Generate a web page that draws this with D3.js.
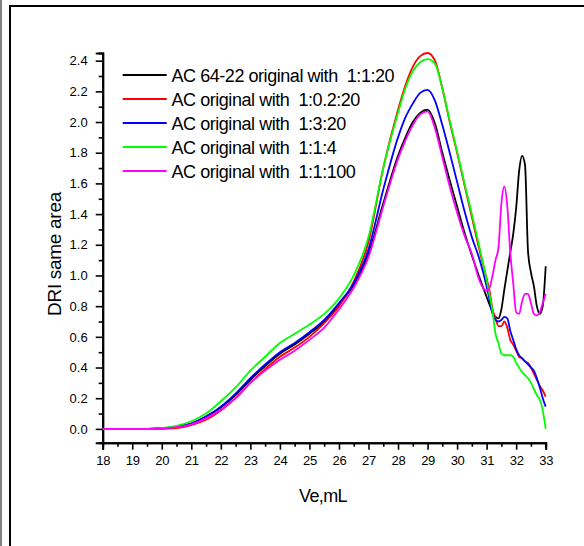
<!DOCTYPE html>
<html><head><meta charset="utf-8">
<script src="https://cdn.jsdelivr.net/npm/d3@7"></script>
<style>body{margin:0;background:#fff}svg{display:block}text{font-family:"Liberation Sans",Arial,sans-serif;fill:#000}</style>
</head><body><svg id="c" width="584" height="546"></svg>
<script>
const ve = [18,19,19.5,20,20.5,21,21.5,22,22.5,23,23.5,24,24.5,25,25.5,26,26.5,27,27.5,28,28.25,28.5,28.75,29,29.25,29.5,29.75,30,30.25,30.5,30.75,31,31.1,31.2,31.3,31.4,31.5,31.6,31.7,31.8,31.9,32,32.1,32.2,32.3,32.4,32.5,32.6,32.7,32.8,32.9,33];
const black = [0,0,0,0.003,0.012,0.035,0.08,0.14,0.22,0.32,0.41,0.49,0.55,0.62,0.70,0.81,0.94,1.14,1.47,1.78,1.90,2.00,2.06,2.08,1.99,1.80,1.62,1.45,1.28,1.13,0.99,0.86,0.81,0.76,0.73,0.72,0.78,0.91,1.03,1.15,1.27,1.44,1.68,1.78,1.72,1.16,1.02,0.93,0.80,0.75,0.80,1.06];
const red = [0,0,0,0,0.005,0.025,0.06,0.12,0.20,0.30,0.39,0.47,0.53,0.60,0.69,0.80,0.96,1.22,1.70,2.08,2.24,2.36,2.43,2.45,2.40,2.22,2.00,1.80,1.59,1.38,1.17,0.98,0.90,0.78,0.72,0.67,0.67,0.70,0.66,0.58,0.55,0.51,0.47,0.46,0.44,0.43,0.40,0.36,0.32,0.28,0.25,0.21];
const blue = [0,0,0,0.005,0.015,0.035,0.08,0.145,0.23,0.33,0.42,0.50,0.56,0.63,0.71,0.82,0.95,1.17,1.56,1.90,2.03,2.12,2.19,2.21,2.14,1.98,1.80,1.61,1.42,1.25,1.11,0.93,0.84,0.75,0.71,0.70,0.71,0.73,0.72,0.64,0.58,0.52,0.48,0.46,0.44,0.42,0.40,0.38,0.33,0.27,0.20,0.145];
const green = [0,0,0,0.005,0.02,0.05,0.10,0.18,0.27,0.38,0.47,0.56,0.62,0.68,0.75,0.85,1.00,1.25,1.70,2.06,2.22,2.33,2.39,2.41,2.38,2.22,2.01,1.81,1.60,1.40,1.19,0.97,0.87,0.77,0.62,0.56,0.49,0.48,0.48,0.48,0.47,0.43,0.40,0.37,0.35,0.33,0.30,0.26,0.22,0.19,0.12,0.0];
const magenta = [0,0,0,0.003,0.012,0.03,0.07,0.125,0.20,0.30,0.38,0.45,0.51,0.58,0.66,0.78,0.92,1.12,1.45,1.76,1.88,1.98,2.05,2.07,1.96,1.77,1.58,1.41,1.26,1.14,0.97,0.90,0.92,1.00,1.10,1.18,1.47,1.58,1.45,1.15,0.95,0.76,0.75,0.83,0.88,0.88,0.82,0.75,0.74,0.76,0.82,0.88];
const seriesNames = ["AC 64-22 original with  1:1:20","AC original with  1:0.2:20","AC original with  1:3:20","AC original with  1:1:4","AC original with  1:1:100"];
const seriesColors = ["#000000","#ff0000","#0000ff","#00ff00","#ff00ff"];
const seriesValues = [black, red, blue, green, magenta];
const xTicks = [18,19,20,21,22,23,24,25,26,27,28,29,30,31,32,33];
const yTicks = [0.0,0.2,0.4,0.6,0.8,1.0,1.2,1.4,1.6,1.8,2.0,2.2,2.4];
const xTitle = "Ve,mL";
const yTitle = "DRI same area";

const svg = d3.select("#c");
// frame
svg.append("line").attr("x1",1).attr("x2",1).attr("y1",0).attr("y2",546).attr("stroke","#000").attr("stroke-width",1);
svg.append("path").attr("d","M10,546V6H584").attr("fill","none").attr("stroke","#000").attr("stroke-width",2);

const x = d3.scaleLinear().domain([18,33]).range([102.7,545.7]);
const y = d3.scaleLinear().domain([-0.09,2.45]).range([442.7,53]);

const minorX = d3.range(18.5,33,1);
const minorY = d3.range(0.1,2.41,0.2);

const gx = svg.append("g").attr("transform","translate(0,442.7)");
gx.call(d3.axisBottom(x).tickValues(minorX).tickSize(4).tickFormat(""));
gx.append("g").call(d3.axisBottom(x).tickValues(xTicks).tickSize(7).tickPadding(6).tickFormat(d3.format("d")));
gx.selectAll("path.domain").attr("stroke-width",2);
gx.selectAll("line").attr("stroke-width",1.6);
gx.selectAll("text").attr("font-size",13).attr("font-family","Liberation Sans, Arial, sans-serif").style("letter-spacing","-0.3px");

const gy = svg.append("g").attr("transform","translate(102.7,0)");
gy.call(d3.axisLeft(y).tickValues(minorY).tickSize(4).tickFormat(""));
gy.append("g").call(d3.axisLeft(y).tickValues(yTicks).tickSize(7).tickPadding(8).tickFormat(d3.format(".1f")));
gy.selectAll("path.domain").attr("stroke-width",2);
gy.selectAll("line").attr("stroke-width",1.6);
gy.selectAll("text").attr("font-size",13).attr("font-family","Liberation Sans, Arial, sans-serif");

svg.append("text").attr("x",323).attr("y",502).attr("text-anchor","middle").attr("font-size",18).style("letter-spacing","-0.6px").text(xTitle);
svg.append("text").attr("transform","translate(61,254) rotate(-90)").attr("text-anchor","middle").attr("font-size",19).style("letter-spacing","-0.3px").text(yTitle);

const line = d3.line().x((d,i)=>x(ve[i])).y(d=>y(d)).curve(d3.curveMonotoneX);
seriesValues.forEach((vals,k)=>{
  svg.append("path").datum(vals).attr("d",line).attr("fill","none").attr("stroke",seriesColors[k]).attr("stroke-width",1.8);
});

// legend
const leg = svg.append("g");
seriesNames.forEach((nm,k)=>{
  const ry = 75 + k*24;
  leg.append("line").attr("x1",122.7).attr("x2",166.7).attr("y1",ry).attr("y2",ry).attr("stroke",seriesColors[k]).attr("stroke-width",2);
  leg.append("text").attr("x",171.5).attr("y",ry+6.5).attr("font-size",18).style("letter-spacing","-0.45px").style("white-space","pre").attr("xml:space","preserve").text(nm);
});
</script></body></html>
